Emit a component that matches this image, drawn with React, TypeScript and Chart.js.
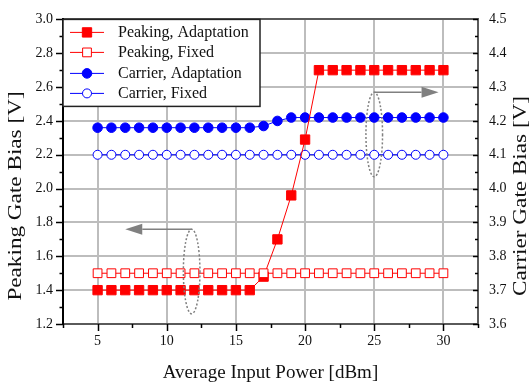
import { useEffect, useRef } from 'react';
import { Chart, registerables } from 'chart.js';

Chart.register(...registerables);

// ---- data ----
const inputPower = [5, 6, 7, 8, 9, 10, 11, 12, 13, 14, 15, 16, 17, 18, 19, 20, 21, 22, 23, 24, 25, 26, 27, 28, 29, 30];
const peakingAdaptation = [1.4, 1.4, 1.4, 1.4, 1.4, 1.4, 1.4, 1.4, 1.4, 1.4, 1.4, 1.4, 1.48, 1.7, 1.96, 2.29, 2.7, 2.7, 2.7, 2.7, 2.7, 2.7, 2.7, 2.7, 2.7, 2.7];
const peakingFixed = [1.5, 1.5, 1.5, 1.5, 1.5, 1.5, 1.5, 1.5, 1.5, 1.5, 1.5, 1.5, 1.5, 1.5, 1.5, 1.5, 1.5, 1.5, 1.5, 1.5, 1.5, 1.5, 1.5, 1.5, 1.5, 1.5];
const carrierAdaptation = [4.18, 4.18, 4.18, 4.18, 4.18, 4.18, 4.18, 4.18, 4.18, 4.18, 4.18, 4.18, 4.185, 4.2, 4.21, 4.21, 4.21, 4.21, 4.21, 4.21, 4.21, 4.21, 4.21, 4.21, 4.21, 4.21];
const carrierFixed = [4.1, 4.1, 4.1, 4.1, 4.1, 4.1, 4.1, 4.1, 4.1, 4.1, 4.1, 4.1, 4.1, 4.1, 4.1, 4.1, 4.1, 4.1, 4.1, 4.1, 4.1, 4.1, 4.1, 4.1, 4.1, 4.1];

const seriesLabels = ['Peaking, Adaptation', 'Peaking, Fixed', 'Carrier, Adaptation', 'Carrier, Fixed'];

const xTicks = [5, 10, 15, 20, 25, 30];
const xMinorTicks = [2.5, 7.5, 12.5, 17.5, 22.5, 27.5, 32.5];
const leftTicks = [1.2, 1.4, 1.6, 1.8, 2.0, 2.2, 2.4, 2.6, 2.8, 3.0];
const leftMinorTicks = [1.3, 1.5, 1.7, 1.9, 2.1, 2.3, 2.5, 2.7, 2.9];
const rightTicks = [3.6, 3.7, 3.8, 3.9, 4.0, 4.1, 4.2, 4.3, 4.4, 4.5];
const rightMinorTicks = [3.65, 3.75, 3.85, 3.95, 4.05, 4.15, 4.25, 4.35, 4.45];

const xTitle = 'Average Input Power [dBm]';
const leftTitle = 'Peaking Gate Bias [V]';
const rightTitle = 'Carrier Gate Bias [V]';

// annotation ellipses (data units) with arrows pointing to their axis
const annotations = [
  { axis: 'yL', cx: 11.8, cy: 1.51, rx: 0.6, ry: 0.25, arrowTo: 7.0 },
  { axis: 'yR', cx: 25.0, cy: 4.16, rx: 0.6, ry: 0.125, arrowTo: 29.65 },
];

const FONT = "'Liberation Serif', 'Times New Roman', serif";
const RED = '#ff0000';
const BLUE = '#0000ff';
const GRID = '#bdbdbd';
const FRAME = '#5a5a5a';

const toPoints = (ys: number[]) => ys.map((y, i) => ({ x: inputPower[i], y }));

const drawVerticalTitle = (ctx: any, text: string, cx: number, cy: number, stretch: number) => {
  ctx.save();
  ctx.fillStyle = '#111';
  ctx.font = `19px ${FONT}`;
  ctx.textAlign = 'center';
  ctx.textBaseline = 'middle';
  ctx.translate(cx, cy);
  ctx.rotate(-Math.PI / 2);
  ctx.scale(stretch, 1);
  ctx.fillText(text, 0, 0);
  ctx.restore();
};

const extrasPlugin = {
  id: 'extras',
  afterDatasetsDraw(chart: any) {
    const ctx = chart.ctx;
    const xs = chart.scales.x;
    ctx.save();
    ctx.strokeStyle = '#808080';
    ctx.fillStyle = '#808080';
    for (const a of annotations) {
      const ys = chart.scales[a.axis];
      const cx = xs.getPixelForValue(a.cx);
      const cy = ys.getPixelForValue(a.cy);
      const rx = Math.abs(xs.getPixelForValue(a.cx + a.rx) - cx);
      const ry = Math.abs(ys.getPixelForValue(a.cy + a.ry) - cy);
      ctx.lineWidth = 1.5;
      ctx.setLineDash([2, 2]);
      ctx.beginPath();
      ctx.ellipse(cx, cy, rx, ry, 0, 0, Math.PI * 2);
      ctx.stroke();
      ctx.setLineDash([]);
      const topY = cy - ry;
      const tipX = xs.getPixelForValue(a.arrowTo);
      const dir = tipX < cx ? -1 : 1;
      const headLen = 17;
      ctx.beginPath();
      ctx.moveTo(cx, topY);
      ctx.lineTo(tipX - dir * headLen, topY);
      ctx.stroke();
      ctx.beginPath();
      ctx.moveTo(tipX, topY);
      ctx.lineTo(tipX - dir * headLen, topY - 5.5);
      ctx.lineTo(tipX - dir * headLen, topY + 5.5);
      ctx.closePath();
      ctx.fill();
    }
    ctx.restore();
  },
  afterDraw(chart: any) {
    const ctx = chart.ctx;
    const area = chart.chartArea;
    const xs = chart.scales.x;
    const yl = chart.scales.yL;
    const yr = chart.scales.yR;
    ctx.save();
    // tick marks
    ctx.strokeStyle = '#000';
    ctx.lineWidth = 1.5;
    const vTicks = (scale: any, vals: number[], x0: number, x1: number) => {
      for (const v of vals) {
        const y = Math.round(scale.getPixelForValue(v)) + 0.5;
        ctx.beginPath();
        ctx.moveTo(x0, y);
        ctx.lineTo(x1, y);
        ctx.stroke();
      }
    };
    vTicks(yl, leftTicks, area.left - 7, area.left);
    vTicks(yl, leftMinorTicks, area.left - 3.5, area.left);
    vTicks(yr, rightTicks, area.right - 5, area.right);
    vTicks(yr, rightMinorTicks, area.right - 3, area.right);
    const hTicks = (vals: number[], len: number) => {
      for (const v of vals) {
        const x = Math.round(xs.getPixelForValue(v)) + 0.5;
        ctx.beginPath();
        ctx.moveTo(x, area.bottom);
        ctx.lineTo(x, area.bottom + len);
        ctx.stroke();
      }
    };
    hTicks(xTicks, 7);
    hTicks(xMinorTicks, 4);

    // vertical axis titles (both read bottom-to-top)
    drawVerticalTitle(ctx, leftTitle, 16, 196, 1.22);
    drawVerticalTitle(ctx, rightTitle, 521, 196, 1.22);

    // legend box
    const bx = area.left, by = area.top, bw = 197, bh = 87;
    ctx.fillStyle = '#fff';
    ctx.fillRect(bx, by, bw, bh);
    ctx.strokeStyle = '#222';
    ctx.lineWidth = 1.5;
    ctx.strokeRect(bx, by, bw, bh);
    const rowY = [25, 45, 66, 86].map((v) => v - 12 + by);
    chart.data.datasets.forEach((ds: any, i: number) => {
      const y = rowY[i];
      ctx.strokeStyle = ds.borderColor;
      ctx.lineWidth = 1;
      ctx.beginPath();
      ctx.moveTo(bx + 7, y);
      ctx.lineTo(bx + 41, y);
      ctx.stroke();
      const mx = bx + 24;
      const r = ds.pointRadius;
      ctx.fillStyle = ds.pointBackgroundColor;
      ctx.strokeStyle = ds.pointBorderColor;
      ctx.lineWidth = ds.pointBorderWidth;
      ctx.beginPath();
      if (ds.pointStyle === 'rect') {
        const s = Math.SQRT1_2 * r;
        ctx.rect(mx - s, y - s, 2 * s, 2 * s);
      } else {
        ctx.arc(mx, y, r, 0, Math.PI * 2);
      }
      ctx.fill();
      ctx.stroke();
      ctx.fillStyle = '#111';
      ctx.font = `16px ${FONT}`;
      ctx.textAlign = 'left';
      ctx.textBaseline = 'middle';
      ctx.fillText(ds.label, bx + 55, y);
    });
    ctx.restore();
  },
};

export default function App() {
  const ref = useRef<HTMLCanvasElement | null>(null);
  useEffect(() => {
    document.body.style.margin = '0';
    const canvas = ref.current!;
    const tickFont = { family: FONT, size: 14 };
    const chart = new Chart(canvas, {
      type: 'line',
      data: {
        datasets: [
          {
            label: seriesLabels[0],
            data: toPoints(peakingAdaptation),
            yAxisID: 'yL',
            borderColor: RED,
            borderWidth: 1,
            pointStyle: 'rect',
            pointRadius: 6.6,
            pointBackgroundColor: RED,
            pointBorderColor: RED,
            pointBorderWidth: 1,
            order: 1,
          },
          {
            label: seriesLabels[1],
            data: toPoints(peakingFixed),
            yAxisID: 'yL',
            borderColor: RED,
            borderWidth: 1,
            pointStyle: 'rect',
            pointRadius: 6.2,
            pointBackgroundColor: '#fff',
            pointBorderColor: RED,
            pointBorderWidth: 1,
            order: 0,
          },
          {
            label: seriesLabels[2],
            data: toPoints(carrierAdaptation),
            yAxisID: 'yR',
            borderColor: BLUE,
            borderWidth: 1,
            pointStyle: 'circle',
            pointRadius: 4.8,
            pointBackgroundColor: BLUE,
            pointBorderColor: BLUE,
            pointBorderWidth: 1,
            order: 2,
          },
          {
            label: seriesLabels[3],
            data: toPoints(carrierFixed),
            yAxisID: 'yR',
            borderColor: BLUE,
            borderWidth: 1,
            pointStyle: 'circle',
            pointRadius: 4.5,
            pointBackgroundColor: '#fff',
            pointBorderColor: BLUE,
            pointBorderWidth: 1,
            order: 3,
          },
        ],
      },
      options: {
        responsive: false,
        animation: false,
        devicePixelRatio: 1,
        layout: { padding: { top: 12, left: 0, right: 0, bottom: 0 } },
        plugins: { legend: { display: false }, tooltip: { enabled: false } },
        scales: {
          x: {
            type: 'linear',
            min: 2.5,
            max: 32.5,
            afterBuildTicks: (s: any) => { s.ticks = xTicks.map((v) => ({ value: v })); },
            afterFit: (s: any) => { s.height = 62; },
            ticks: { font: tickFont, color: '#111', padding: 9, maxRotation: 0, callback: (v: any) => String(v) },
            grid: { color: GRID, lineWidth: 2, drawTicks: false },
            border: { display: true, color: FRAME, width: 2 },
            title: { display: true, text: xTitle, font: { family: FONT, size: 19 }, color: '#111', padding: { top: 0, bottom: 2 } },
          },
          yL: {
            type: 'linear',
            position: 'left',
            min: 1.2,
            max: 3.0,
            afterBuildTicks: (s: any) => { s.ticks = leftTicks.map((v) => ({ value: v })); },
            afterFit: (s: any) => { s.width = 63; },
            ticks: { font: tickFont, color: '#111', padding: 10, callback: (v: any) => Number(v).toFixed(1) },
            grid: {
              lineWidth: 2,
              drawTicks: false,
              color: (c: any) => (Math.abs(c.tick.value - 3.0) < 1e-6 ? FRAME : Math.abs(c.tick.value - 1.2) < 1e-6 ? 'rgba(0,0,0,0)' : GRID),
            },
            border: { display: true, color: '#000', width: 2 },
          },
          yR: {
            type: 'linear',
            position: 'right',
            min: 3.6,
            max: 4.5,
            afterBuildTicks: (s: any) => { s.ticks = rightTicks.map((v) => ({ value: v })); },
            afterFit: (s: any) => { s.width = 53; },
            ticks: { font: tickFont, color: '#111', padding: 11, callback: (v: any) => Number(v).toFixed(1) },
            grid: { drawOnChartArea: false, drawTicks: false },
            border: { display: true, color: FRAME, width: 2 },
          },
        },
      },
      plugins: [extrasPlugin],
    } as any);
    return () => chart.destroy();
  }, []);
  return <canvas ref={ref} width={531} height={386} style={{ display: 'block', width: 531, height: 386 }} />;
}
